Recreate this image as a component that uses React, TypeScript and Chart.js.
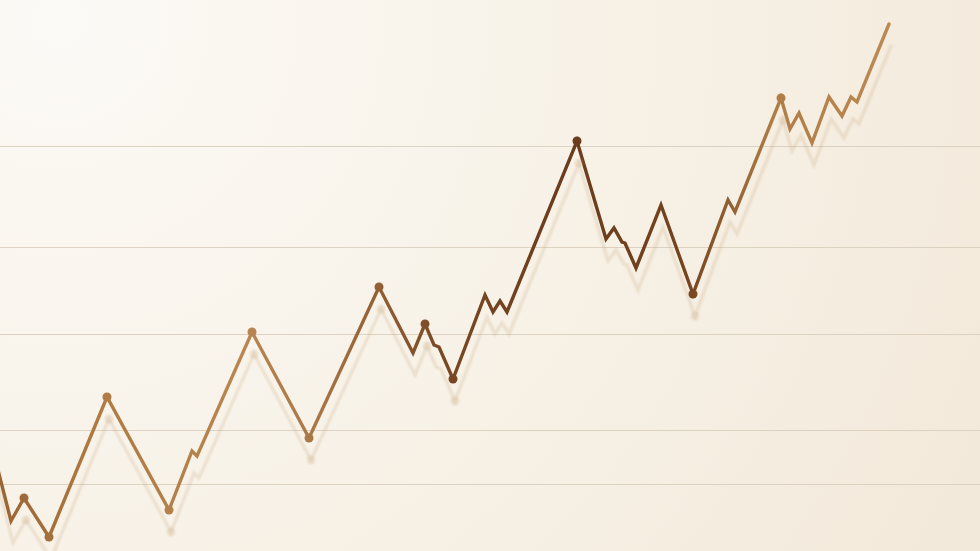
import React, { useEffect, useRef } from "react";
import { Chart, registerables } from "chart.js";

Chart.register(...registerables);

// Time positions (horizontal units) of each vertex of the price line
const TIME = [
  -3, 11, 24, 49, 107, 169, 192, 197, 252, 309, 379, 413, 425, 434, 439, 453,
  485, 493, 500, 507, 577, 606, 614, 622, 625, 636, 661, 693, 728, 735, 781,
  790, 799, 812, 829, 842, 851, 857, 889,
];

// Value of the line at each vertex
const VALUES = [
  85, 30, 53, 14, 154, 41, 100, 95, 219, 113, 264, 198, 227, 206, 204, 172,
  256, 239, 250, 239, 410, 312, 323, 309, 308, 283, 346, 257, 351, 339, 453,
  422, 438, 408, 454, 435, 454, 449, 527,
];

// Indices of vertices that carry a round marker
const MARKED = [2, 3, 4, 5, 8, 9, 10, 12, 15, 20, 27, 30];

// Horizontal guide lines (values)
const GRID_VALUES = [67, 121, 217, 304, 405];

const X_RANGE = [0, 980];
const Y_RANGE = [0, 551];

function makeLineGradient(chart: Chart) {
  const { ctx, chartArea } = chart;
  if (!chartArea) return "#8a5a30";
  const g = ctx.createLinearGradient(chartArea.left, 0, chartArea.right, 0);
  g.addColorStop(0.0, "#9a6434");
  g.addColorStop(0.1, "#b07a42");
  g.addColorStop(0.25, "#b98650");
  g.addColorStop(0.33, "#a87445");
  g.addColorStop(0.45, "#7a4824");
  g.addColorStop(0.58, "#6b3c1d");
  g.addColorStop(0.7, "#74441f");
  g.addColorStop(0.79, "#b07d46");
  g.addColorStop(1.0, "#c4935a");
  return g;
}

const backgroundPlugin = {
  id: "paperBackground",
  beforeDraw(chart: Chart) {
    const { ctx, width, height } = chart;
    ctx.save();
    const g = ctx.createRadialGradient(60, 20, 0, 60, 20, 1150);
    g.addColorStop(0, "#fcfaf6");
    g.addColorStop(0.5, "#f7f1e6");
    g.addColorStop(1, "#f1e7d7");
    ctx.fillStyle = g;
    ctx.fillRect(0, 0, width, height);
    ctx.restore();
  },
};

const shadowPlugin = {
  id: "lineShadow",
  beforeDatasetDraw(chart: Chart) {
    const ctx = chart.ctx;
    ctx.save();
    ctx.shadowColor = "rgba(195, 160, 115, 0.22)";
    ctx.shadowBlur = 2;
    ctx.shadowOffsetX = 2;
    ctx.shadowOffsetY = 22;
  },
  afterDatasetDraw(chart: Chart) {
    chart.ctx.restore();
  },
};

export default function App() {
  const canvasRef = useRef<HTMLCanvasElement | null>(null);

  useEffect(() => {
    document.body.style.margin = "0";
    const canvas = canvasRef.current;
    if (!canvas) return;
    const data = TIME.map((t, i) => ({ x: t, y: VALUES[i] }));
    const chart = new Chart(canvas, {
      type: "line",
      data: {
        datasets: [
          {
            data,
            borderColor: (c: any) => makeLineGradient(c.chart),
            pointBackgroundColor: (c: any) => makeLineGradient(c.chart),
            pointBorderColor: (c: any) => makeLineGradient(c.chart),
            borderWidth: 3.4,
            borderJoinStyle: "miter",
            borderCapStyle: "round",
            tension: 0,
            pointRadius: (c: any) => (MARKED.includes(c.dataIndex) ? 4.5 : 0),
            pointBorderWidth: 0,
            pointHoverRadius: 0,
            fill: false,
          },
        ],
      },
      options: {
        responsive: false,
        animation: false,
        maintainAspectRatio: false,
        layout: { padding: 0, autoPadding: false },
        plugins: {
          legend: { display: false },
          tooltip: { enabled: false },
          title: { display: false },
        },
        events: [],
        scales: {
          x: {
            type: "linear",
            min: X_RANGE[0],
            max: X_RANGE[1],
            display: false,
          },
          y: {
            type: "linear",
            min: Y_RANGE[0],
            max: Y_RANGE[1],
            display: true,
            afterBuildTicks: (scale: any) => {
              scale.ticks = GRID_VALUES.map((v) => ({ value: v }));
            },
            ticks: { display: false },
            border: { display: false },
            grid: {
              drawTicks: false,
              color: "rgba(214, 202, 184, 0.8)",
              lineWidth: 1,
            },
          },
        },
      },
      plugins: [backgroundPlugin, shadowPlugin],
    });
    return () => chart.destroy();
  }, []);

  return (
    <div style={{ width: 980, height: 551 }}>
      <canvas ref={canvasRef} width={980} height={551} style={{ display: "block" }} />
    </div>
  );
}
